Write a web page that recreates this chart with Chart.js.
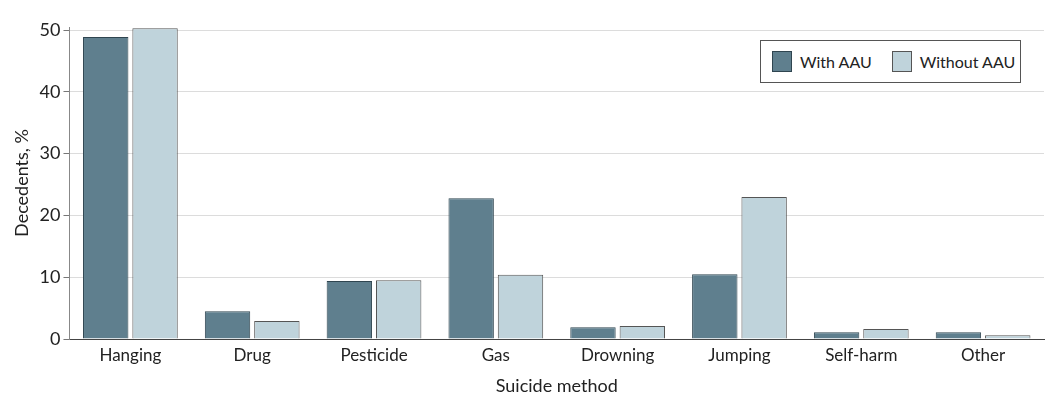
<!DOCTYPE html>
<html>
<head>
<meta charset="utf-8">
<script src="https://cdn.jsdelivr.net/npm/chart.js@4"></script>
<style>
  body { margin: 0; background: #fff; }
  #wrap { position: relative; width: 1061px; height: 412px; }
  #legend {
    position: absolute; left: 760px; top: 40px; width: 261px; height: 43px;
    border: 1px solid #555; background: #fff; box-sizing: border-box;
    font-family: Lato, sans-serif; font-size: 16px; color: #222;
    display: flex; align-items: center; padding-left: 11px; white-space: nowrap;
  }
  .sw { width: 20px; height: 21px; box-sizing: border-box; display: inline-block; margin-right: 8px; }
  .item { display: flex; align-items: center; margin-right: 20px; }
</style>
</head>
<body>
<div id="wrap">
  <canvas id="myChart" width="1061" height="412"></canvas>
  <div id="legend">
    <span class="item"><span class="sw" style="background:#5f7f8e;border:1px solid #2f4550"></span>With AAU</span>
    <span class="item"><span class="sw" style="background:#bfd3db;border:1px solid #555"></span>Without AAU</span>
  </div>
</div>
<script>
const categories = ["Hanging", "Drug", "Pesticide", "Gas", "Drowning", "Jumping", "Self-harm", "Other"];
const withAAU = [48.9, 4.5, 9.4, 22.8, 1.9, 10.5, 1.1, 1.1];
const withoutAAU = [50.3, 2.9, 9.5, 10.4, 2.1, 23.0, 1.6, 0.6];
const yTicks = [0, 10, 20, 30, 40, 50];

const ctx = document.getElementById("myChart");
Chart.defaults.font.family = "Lato, sans-serif";
Chart.defaults.color = "#222";

new Chart(ctx, {
  type: "bar",
  data: {
    labels: categories,
    datasets: [
      {
        label: "With AAU",
        data: withAAU,
        backgroundColor: "#5f7f8e",
        borderColor: "#2f4550",
        borderWidth: 1,
        borderSkipped: "bottom",
        categoryPercentage: 0.81,
        barPercentage: 0.92,
      },
      {
        label: "Without AAU",
        data: withoutAAU,
        backgroundColor: "#bfd3db",
        borderColor: "#555",
        borderWidth: 1,
        borderSkipped: "bottom",
        categoryPercentage: 0.81,
        barPercentage: 0.92,
      },
    ],
  },
  options: {
    responsive: false,
    animation: false,
    layout: { padding: { top: 27, right: 17, left: 7, bottom: 11 } },
    plugins: { legend: { display: false }, tooltip: { enabled: false } },
    scales: {
      x: {
        grid: { display: false, drawTicks: false },
        border: { color: "#444", width: 1 },
        ticks: { font: { size: 17 }, color: "#222", padding: 6 },
        title: { display: true, text: "Suicide method", font: { size: 18 }, color: "#222", padding: { top: 4 } },
      },
      y: {
        min: 0,
        max: 50.5,
        afterBuildTicks: (axis) => { axis.ticks = yTicks.map((v) => ({ value: v })); },
        grid: { color: "#dcdcdc", tickColor: "#777", tickLength: 6 },
        border: { color: "#888", width: 1 },
        ticks: { font: { size: 18 }, color: "#222", padding: 3 },
        title: { display: true, text: "Decedents, %", font: { size: 18 }, color: "#222", padding: { bottom: 4 } },
      },
    },
  },
});
</script>
</body>
</html>
